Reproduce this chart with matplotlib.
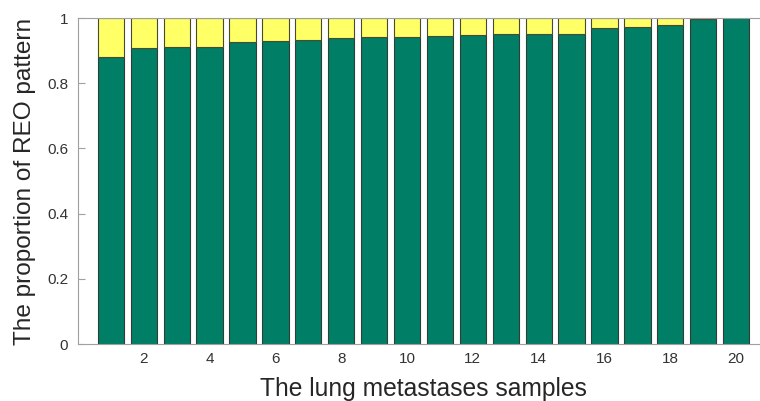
import numpy as np
import matplotlib.pyplot as plt

# samples and proportions
samples = np.arange(1, 21)
green_vals = [0.881, 0.907, 0.910, 0.910, 0.926, 0.930, 0.933, 0.938, 0.941, 0.942,
              0.945, 0.948, 0.951, 0.951, 0.951, 0.968, 0.972, 0.980, 0.996, 1.0]
yellow_vals = [1 - v for v in green_vals]
x_ticks = [2, 4, 6, 8, 10, 12, 14, 16, 18, 20]
y_ticks = [0, 0.2, 0.4, 0.6, 0.8, 1]
y_tick_labels = ['0', '0.2', '0.4', '0.6', '0.8', '1']

plt.rcParams['font.family'] = ['Liberation Sans', 'DejaVu Sans']

fig = plt.figure(figsize=(7.6, 4.01), dpi=100)
ax = fig.add_axes([78 / 760, 57 / 401, 691 / 760, 326 / 401])

ax.bar(samples, green_vals, width=0.8, color='#007F66', edgecolor='#2f3f38', linewidth=0.8)
ax.bar(samples, yellow_vals, bottom=green_vals, width=0.8, color='#FFFF66',
       edgecolor='#4a4a30', linewidth=0.8)

ax.set_xlim(0, 21)
ax.set_ylim(0, 1)
ax.set_xticks(x_ticks)
ax.set_yticks(y_ticks)
ax.set_yticklabels(y_tick_labels)
ax.tick_params(direction='in', length=5, width=0.8, color='#a0a0a0',
               labelsize=11, labelcolor='#333333', pad=7)
# the bars cover the x ticks in the original
ax.tick_params(axis='x', length=0, pad=6)
for s in ax.spines.values():
    s.set_color('#a0a0a0')

ax.set_xlabel('The lung metastases samples', fontsize=17.7, color='#262626', labelpad=8)
ax.set_ylabel('The proportion of REO pattern', fontsize=17.6, color='#262626', labelpad=8)

fig.savefig('out.png', dpi=100)
